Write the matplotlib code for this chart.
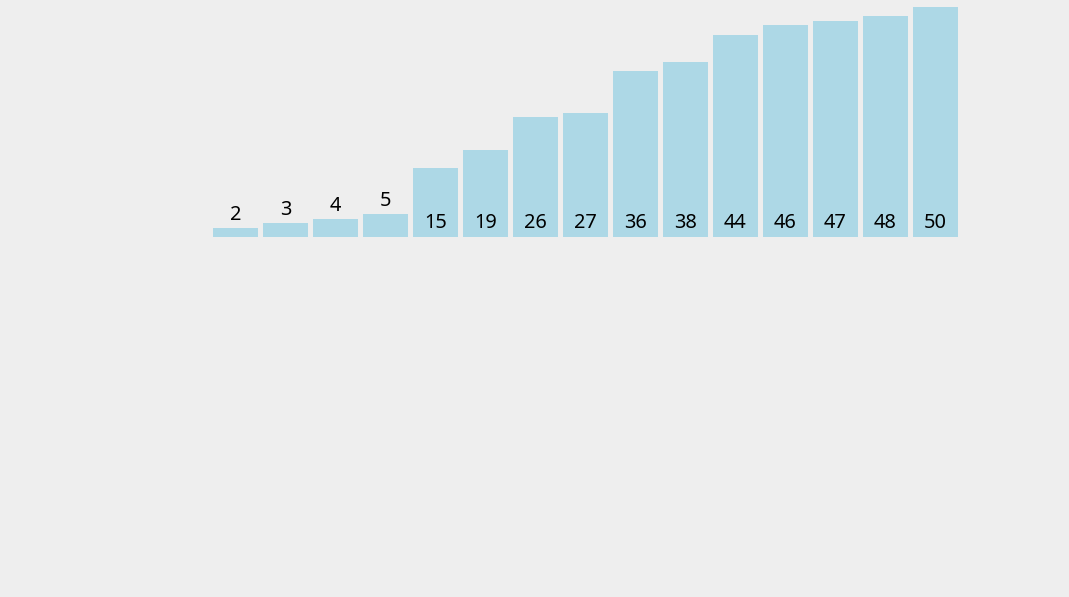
import numpy as np
import matplotlib.pyplot as plt

# -----------------------
# Data
# -----------------------

values = [2, 3, 4, 5, 15, 19, 26, 27, 36, 38, 44, 46, 47, 48, 50]
threshold = 10  # smaller values get their label above the bar

bg = "#eeeeee"
bar_color = "#add8e6"

plt.rcParams["font.family"] = ["Noto Sans", "DejaVu Sans"]

# -----------------------
# Figure
# -----------------------

W, H = 1069, 597
fig = plt.figure(figsize=(W / 100, H / 100), dpi=100, facecolor=bg)

# plot area in pixels: left 213, bottom edge at y=237, top at y=7, slots of 50px
ax = fig.add_axes([213 / W, (H - 237) / H, 750 / W, 230 / H])
ax.set_facecolor(bg)
ax.set_xlim(0, len(values))
ax.set_ylim(0, max(values))
ax.axis("off")

x = np.arange(len(values))
ax.bar(x, values, width=0.9, align="edge", color=bar_color)

for i, v in enumerate(values):
    if v < threshold:
        ax.annotate(str(v), (i + 0.45, v), xytext=(0, 5.8), textcoords="offset points",
                    ha="center", va="baseline", fontsize=14.4, color="black")
    else:
        ax.annotate(str(v), (i + 0.45, 0), xytext=(0, 6.5), textcoords="offset points",
                    ha="center", va="baseline", fontsize=14.4, color="black")

fig.savefig("out.png", dpi=100, facecolor=bg)
